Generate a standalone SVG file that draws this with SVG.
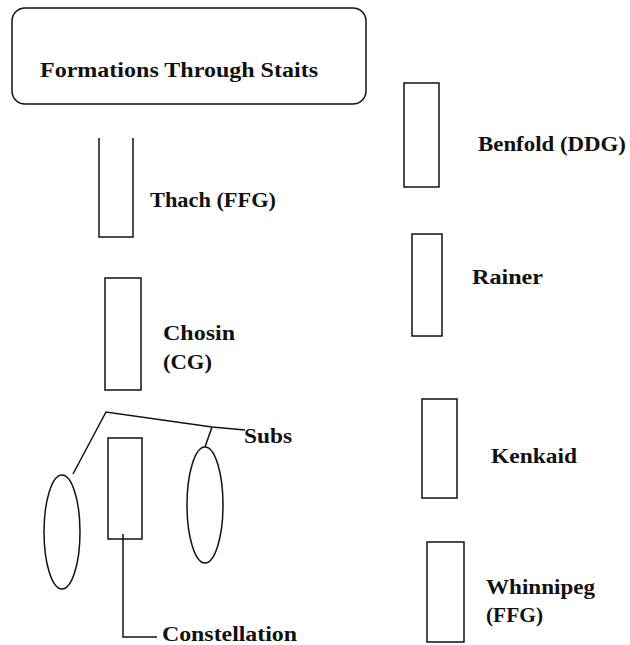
<svg xmlns="http://www.w3.org/2000/svg" width="630" height="645" viewBox="0 0 630 645">
<style>
.s{fill:none;stroke:#111;stroke-width:1.5}
.t{font-family:"Liberation Serif","Times New Roman",serif;font-weight:bold;font-size:20px;fill:#111}
</style>
<rect width="630" height="645" fill="#fff"/>
<g id="title">
<rect class="s" x="12" y="8" width="354" height="96" rx="13"/>
<text class="t" x="40" y="77" textLength="278" lengthAdjust="spacingAndGlyphs">Formations Through Staits</text>
</g>
<g id="thach">
<path class="s" d="M99,138 V237 H133 V138"/>
<text class="t" x="150" y="207" textLength="126" lengthAdjust="spacingAndGlyphs">Thach (FFG)</text>
</g>
<g id="chosin">
<rect class="s" x="105" y="278" width="36" height="112"/>
<text class="t" x="163" y="340" textLength="72" lengthAdjust="spacingAndGlyphs">Chosin</text>
<text class="t" x="163" y="369" textLength="49" lengthAdjust="spacingAndGlyphs">(CG)</text>
</g>
<g id="benfold">
<rect class="s" x="404" y="83" width="35" height="104"/>
<text class="t" x="478" y="151" textLength="148" lengthAdjust="spacingAndGlyphs">Benfold (DDG)</text>
</g>
<g id="rainer">
<rect class="s" x="412" y="234" width="30" height="102"/>
<text class="t" x="472" y="284" textLength="71" lengthAdjust="spacingAndGlyphs">Rainer</text>
</g>
<g id="kenkaid">
<rect class="s" x="422" y="399" width="35" height="99"/>
<text class="t" x="491" y="463" textLength="86" lengthAdjust="spacingAndGlyphs">Kenkaid</text>
</g>
<g id="whinnipeg">
<rect class="s" x="427" y="542" width="37" height="100"/>
<text class="t" x="486" y="594" textLength="109" lengthAdjust="spacingAndGlyphs">Whinnipeg</text>
<text class="t" x="486" y="622" textLength="57" lengthAdjust="spacingAndGlyphs">(FFG)</text>
</g>
<g id="sub-left">
<ellipse class="s" cx="62" cy="532" rx="18" ry="57"/>
</g>
<g id="sub-right">
<ellipse class="s" cx="205" cy="505" rx="18" ry="58"/>
</g>
<g id="constellation">
<rect class="s" x="108" y="438" width="34" height="101"/>
<text class="t" x="162" y="641" textLength="135" lengthAdjust="spacingAndGlyphs">Constellation</text>
</g>
<g id="subs-label">
<text class="t" x="244" y="443" textLength="48" lengthAdjust="spacingAndGlyphs">Subs</text>
</g>
<g id="connectors">
<path class="s" d="M73,474 L106,412 L212,427 L245,430"/>
<path class="s" d="M212,427 L205,447"/>
<path class="s" d="M123,534 V637 H157"/>
</g>
</svg>
